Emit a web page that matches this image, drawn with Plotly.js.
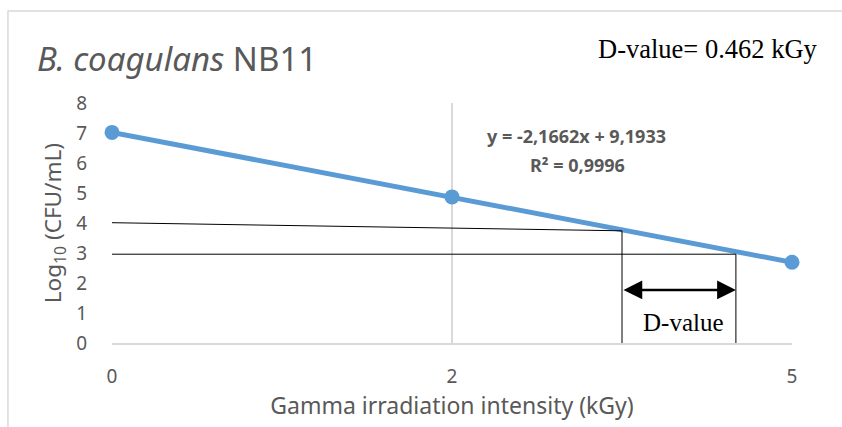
<!DOCTYPE html>
<html><head><meta charset="utf-8">
<script src="https://cdn.plot.ly/plotly-3.0.1.min.js"></script>
<style>html,body{margin:0;padding:0;background:#fff}#chart{width:842px;height:427px}</style>
</head><body><div id="chart"></div>
<script>
// Data
const doseLabels = ['0', '2', '5'];           // Gamma irradiation intensity (kGy), category axis
const logCFU = [7.02, 4.87, 2.69];             // Log10 (CFU/mL)
const yTicks = [0, 1, 2, 3, 4, 5, 6, 7, 8];
const yTitle = 'Log<sub>10</sub> (CFU/mL)';
const xTitle = 'Gamma irradiation intensity (kGy)';
const trendText = ['y = -2,1662x + 9,1933', 'R² = 0,9996'];
const dValueText = 'D-value= 0.462 kGy';
// Construction lines for D-value (category-index x, log y)
const upperLineX = [0, 1.5];  const upperLineY = [4.01, 3.74];
const lowerLineX = [0, 1.835]; const lowerLineY = [2.96, 2.96];
const arrowY = 1.77;

const xIdx = doseLabels.map((_, i) => i);
const gray = '#595959';
const font = 'Noto Sans, Open Sans, sans-serif';
const serif = 'Liberation Serif, Times New Roman, serif';

const traces = [{
  x: xIdx, y: logCFU, type: 'scatter', mode: 'lines+markers',
  line: {color: '#5b9bd5', width: 5}, marker: {color: '#5b9bd5', size: 15},
  cliponaxis: false, hoverinfo: 'skip'
}];

const shapes = [
  {type: 'rect', xref: 'paper', yref: 'paper', x0: -0.153, x1: 1.2, y0: -0.5, y1: 1.383,
   line: {color: '#d9d9d9', width: 1.5}, layer: 'below'},
  {type: 'line', x0: upperLineX[0], y0: upperLineY[0], x1: upperLineX[1], y1: upperLineY[1], line: {color: '#000', width: 1}},
  {type: 'line', x0: lowerLineX[0], y0: lowerLineY[0], x1: lowerLineX[1], y1: lowerLineY[1], line: {color: '#000', width: 1}},
  {type: 'line', x0: upperLineX[1], y0: upperLineY[1], x1: upperLineX[1], y1: -0.07, line: {color: '#000', width: 1}},
  {type: 'line', x0: lowerLineX[1], y0: lowerLineY[1], x1: lowerLineX[1], y1: -0.07, line: {color: '#000', width: 1}}
];

const annotations = [
  {xref: 'paper', yref: 'paper', x: -0.113, y: 1.187, xanchor: 'left', yanchor: 'middle', showarrow: false,
   text: '<i>B. coagulans</i> NB11', font: {family: font, size: 33, color: gray}},
  {xref: 'paper', yref: 'paper', x: 1.041, y: 1.225, xanchor: 'right', yanchor: 'middle', showarrow: false,
   text: dValueText, font: {family: serif, size: 26.5, color: '#000'}},
  // y-axis title
  {xref: 'paper', yref: 'paper', x: -0.085, y: 0.5, xanchor: 'center', yanchor: 'middle', showarrow: false,
   textangle: -90, text: yTitle, font: {family: font, size: 22.5, color: gray}},
  {x: 1.365, y: 6.9, xanchor: 'center', yanchor: 'middle', showarrow: false,
   text: '<b>' + trendText[0] + '</b>', font: {family: font, size: 18, color: gray}},
  {x: 1.37, y: 5.93, xanchor: 'center', yanchor: 'middle', showarrow: false,
   text: '<b>' + trendText[1] + '</b>', font: {family: font, size: 18, color: gray}},
  {x: lowerLineX[1], y: arrowY, ax: upperLineX[1], ay: arrowY, axref: 'x', ayref: 'y',
   showarrow: true, arrowhead: 2, startarrowhead: 2, arrowside: 'end+start', arrowwidth: 2.5, arrowsize: 1.5,
   startarrowsize: 1.5, arrowcolor: '#000', text: ''},
  {x: 1.68, y: 0.7, xanchor: 'center', yanchor: 'middle', showarrow: false,
   text: 'D-value', font: {family: serif, size: 25, color: '#000'}}
];

const layout = {
  width: 842, height: 427,
  margin: {l: 112, r: 50, t: 103, b: 84},
  paper_bgcolor: '#fff', plot_bgcolor: '#fff',
  showlegend: false,
  xaxis: {
    range: [0, 2], tickvals: xIdx, ticktext: doseLabels,
    showgrid: true, gridcolor: '#d9d9d9', gridwidth: 1.5, zeroline: false,
    showline: true, linecolor: '#d9d9d9', linewidth: 1.5, ticks: '',
    ticklabelstandoff: 16,
    tickfont: {family: font, size: 19, color: gray},
    title: {text: xTitle, font: {family: font, size: 23, color: gray}, standoff: 8}
  },
  yaxis: {
    range: [0, 8], tickvals: yTicks, showgrid: false, zeroline: false, showline: false, ticks: '',
    ticklabelstandoff: 24,
    tickfont: {family: font, size: 19, color: gray}
  },
  shapes: shapes, annotations: annotations
};

Plotly.newPlot('chart', traces, layout, {displayModeBar: false, staticPlot: true});
</script></body></html>
